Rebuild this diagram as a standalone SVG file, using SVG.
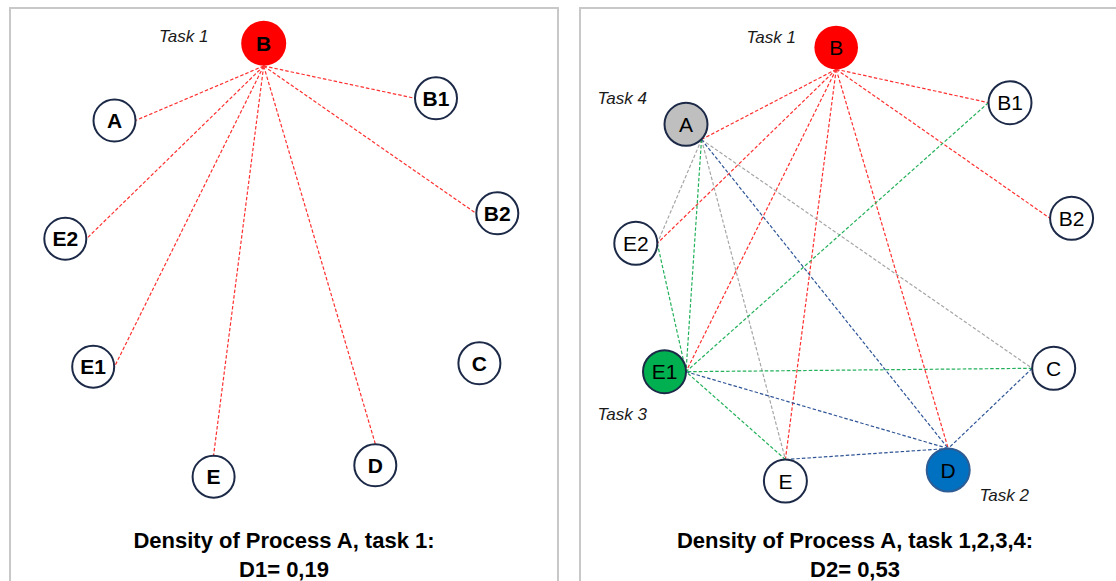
<svg xmlns="http://www.w3.org/2000/svg" width="1116" height="581" viewBox="0 0 1116 581">
<style>
.frame{fill:#fff;stroke:#c8c8c8;stroke-width:2}
.node{fill:#fff;stroke:#1c2a48;stroke-width:2}
.lbl{font-family:"Liberation Sans",Arial,sans-serif;font-size:21px;text-anchor:middle;fill:#000}
.lb{font-weight:bold}
.task{font-family:"Liberation Sans",Arial,sans-serif;font-size:17px;font-style:italic;fill:#1a1a1a}
.title{font-family:"Liberation Sans",Arial,sans-serif;font-size:22px;font-weight:bold;text-anchor:middle;fill:#000}
.e{fill:none;stroke-width:1.2;stroke-dasharray:3.5 2}
.r{stroke:#ff3030}
.g{stroke:#22b05a}
.gy{stroke:#a6a6a6}
.bl{stroke:#2f5597}
</style>
<rect width="1116" height="581" fill="#fff"/>
<rect class="frame" x="10" y="8" width="548" height="590"/>
<rect class="frame" x="580" y="8" width="550" height="590"/>

<g id="connectors-left">
<line class="e r" x1="263.7" y1="66" x2="135.5" y2="120.5"/>
<line class="e r" x1="263.7" y1="66" x2="415" y2="98.3"/>
<line class="e r" x1="263.7" y1="66" x2="476" y2="213.3"/>
<line class="e r" x1="263.7" y1="66" x2="86.5" y2="238.7"/>
<line class="e r" x1="263.7" y1="66" x2="114.5" y2="366.7"/>
<line class="e r" x1="263.7" y1="66" x2="213.6" y2="455.2"/>
<line class="e r" x1="263.7" y1="66" x2="375.3" y2="443.8"/>
</g>

<g id="left-B"><circle cx="263.7" cy="43.3" r="22.5" fill="#ff0000"/><text class="lbl lb" x="263.7" y="50.8">B</text></g>
<g id="left-A"><circle class="node" cx="114.5" cy="120.5" r="21"/><text class="lbl lb" x="114.5" y="128">A</text></g>
<g id="left-B1"><circle class="node" cx="436" cy="98.3" r="21"/><text class="lbl lb" x="436" y="105.8">B1</text></g>
<g id="left-B2"><circle class="node" cx="497.3" cy="213.3" r="21"/><text class="lbl lb" x="497.3" y="220.8">B2</text></g>
<g id="left-E2"><circle class="node" cx="65.3" cy="238.7" r="21"/><text class="lbl lb" x="65.3" y="246.2">E2</text></g>
<g id="left-E1"><circle class="node" cx="93.2" cy="366.7" r="21"/><text class="lbl lb" x="93.2" y="374.2">E1</text></g>
<g id="left-C"><circle class="node" cx="479.4" cy="363.3" r="21"/><text class="lbl lb" x="479.4" y="370.8">C</text></g>
<g id="left-E"><circle class="node" cx="213.6" cy="476.7" r="21"/><text class="lbl lb" x="213.6" y="484.2">E</text></g>
<g id="left-D"><circle class="node" cx="375.3" cy="465.3" r="21"/><text class="lbl lb" x="375.3" y="472.8">D</text></g>
<text class="task" x="159" y="41.7">Task 1</text>
<text class="title" x="284" y="548.3">Density of Process A, task 1:</text>
<text class="title" x="284" y="577">D1= 0,19</text>

<g id="connectors-right">
<line class="e r" x1="836.2" y1="69.3" x2="701.5" y2="139.5"/>
<line class="e r" x1="836.2" y1="69.3" x2="988.4" y2="102.7"/>
<line class="e r" x1="836.2" y1="69.3" x2="1050" y2="218.3"/>
<line class="e r" x1="836.2" y1="69.3" x2="657.3" y2="243.3"/>
<line class="e r" x1="836.2" y1="69.3" x2="686" y2="371.7"/>
<line class="e r" x1="836.2" y1="69.3" x2="785.4" y2="459.5"/>
<line class="e r" x1="836.2" y1="69.3" x2="948.2" y2="448.5"/>
<line class="e gy" x1="701.5" y1="139.5" x2="657.3" y2="243.3"/>
<line class="e gy" x1="701.5" y1="139.5" x2="785.4" y2="459.5"/>
<line class="e gy" x1="701.5" y1="139.5" x2="1032.2" y2="368.3"/>
<line class="e bl" x1="701.5" y1="139.5" x2="948.2" y2="448.5"/>
<line class="e bl" x1="686" y1="371.7" x2="948.2" y2="448.5"/>
<line class="e bl" x1="785.4" y1="459.5" x2="948.2" y2="448.5"/>
<line class="e bl" x1="1032.2" y1="368.3" x2="948.2" y2="448.5"/>
<line class="e g" x1="657.3" y1="243.3" x2="686" y2="371.7"/>
<line class="e g" x1="701.5" y1="139.5" x2="686" y2="371.7"/>
<line class="e g" x1="988.4" y1="102.7" x2="686" y2="371.7"/>
<line class="e g" x1="1032.2" y1="368.3" x2="686" y2="371.7"/>
<line class="e g" x1="785.4" y1="459.5" x2="686" y2="371.7"/>
</g>

<g id="right-B"><circle cx="836.2" cy="47.5" r="21.8" fill="#ff0000"/><text class="lbl" x="836.2" y="55">B</text></g>
<g id="right-A"><circle class="node" cx="686" cy="124.3" r="21.5" style="fill:#bfbfbf"/><text class="lbl" x="686" y="131.8">A</text></g>
<g id="right-B1"><circle class="node" cx="1010" cy="102.7" r="21.5"/><text class="lbl" x="1010" y="110.2">B1</text></g>
<g id="right-B2"><circle class="node" cx="1071.6" cy="218.3" r="21.5"/><text class="lbl" x="1071.6" y="225.8">B2</text></g>
<g id="right-E2"><circle class="node" cx="635.8" cy="243.3" r="21.5"/><text class="lbl" x="635.8" y="250.8">E2</text></g>
<g id="right-E1"><circle class="node" cx="664.5" cy="371.7" r="21.5" style="fill:#00b050"/><text class="lbl" x="664.5" y="379.2">E1</text></g>
<g id="right-C"><circle class="node" cx="1053.7" cy="368.3" r="21.5"/><text class="lbl" x="1053.7" y="375.8">C</text></g>
<g id="right-E"><circle class="node" cx="785.4" cy="481" r="21.5"/><text class="lbl" x="785.4" y="488.5">E</text></g>
<g id="right-D"><circle cx="948.2" cy="470" r="21.5" fill="#0070c0" stroke="#2e5c94" stroke-width="2"/><text class="lbl" x="948.2" y="477.5">D</text></g>
<text class="task" x="746.5" y="42.7">Task 1</text>
<text class="task" x="597.5" y="104.3">Task 4</text>
<text class="task" x="597.5" y="420">Task 3</text>
<text class="task" x="979.5" y="500.7">Task 2</text>
<text class="title" x="855" y="548.3">Density of Process A, task 1,2,3,4:</text>
<text class="title" x="855" y="577">D2= 0,53</text>
</svg>
